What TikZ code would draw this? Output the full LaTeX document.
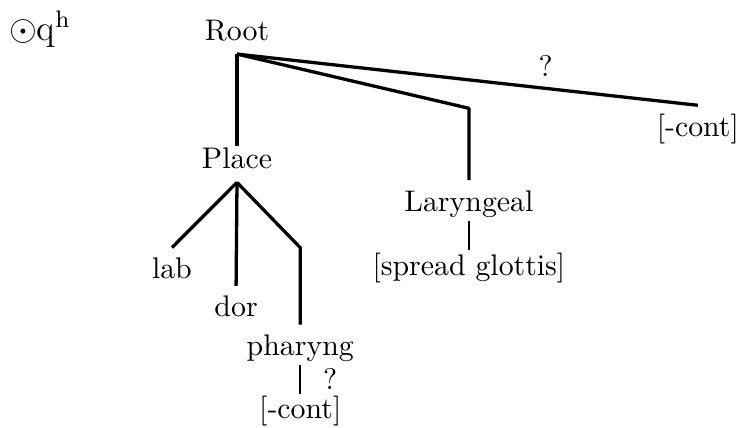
\documentclass[tikz,border=0pt]{standalone}
\usepackage{amsmath}
\usepackage{amssymb}
\usetikzlibrary{positioning}

\begin{document}
\begin{tikzpicture}[%
node distance=21.5pt,
on grid,
auto,
feat/.style={text height=1.6ex, text depth=.25ex},
branch/.style={line width=1.1pt, line join=round},
stem/.style={line width=0.7pt, shorten <=-1.5pt, shorten >=-2pt}
]

\useasboundingbox (-79.4pt,-132.8pt) rectangle (170.2pt,10.6pt);

\node[feat] (root) {Root};
\node[feat, font=\large] (qh) [left=66pt of root] {$\odot$q$^{\mathrm{h}}$};
\node[feat] (place) [below=43pt of root] {Place};
\node[feat] (lar) [below right=57.3pt and 77.7pt of root] {Laryngeal};
\node[feat] (sg) [below=21.4pt of lar] {[spread glottis]};
\node[feat] (cont) [below right=32.2pt and 154.4pt of root] {[-cont]};
\node[feat] (lab) [below left=36.9pt and 21.8pt of place] {lab};
\node[feat] (dor) [below right=12.8pt and 21.5pt of lab] {dor};
\node[feat] (phar) [below right=13pt and 21.5pt of dor] {pharyng};
\node[feat] (pcont) [below=21.1pt of phar] {[-cont]};

\draw[branch, shorten >=-3pt] (root.south) -- (place.north);
\draw[branch] (root.south) -- ([yshift=-1pt]lar.north |- cont.north) -- (lar.north);
\draw[branch] (root.south) -- node[pos=0.67, above] {?} (cont.north);

\draw[branch] (place.south) -- (lab.north);
\draw[branch] (place.south) -- (dor.north);
\draw[branch] (place.south) -- (phar.north |- lab.north) -- (phar.north);

\draw[stem] (lar.south) -- (sg.north);
\draw[stem] (phar.south) -- node[right=4pt] {?} (pcont.north);

\end{tikzpicture}
\end{document}
